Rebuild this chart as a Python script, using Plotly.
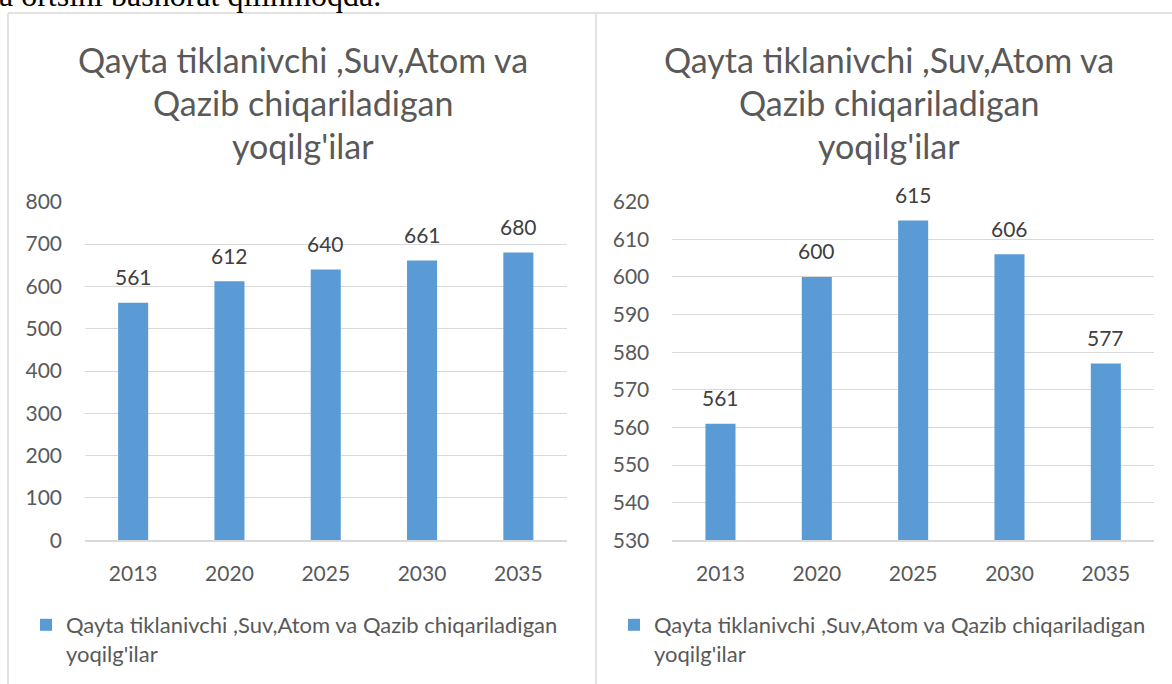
import plotly.graph_objects as go

W, H = 1172, 684

categories = ["2013", "2020", "2025", "2030", "2035"]
left_values = [561, 612, 640, 661, 680]
right_values = [561, 600, 615, 606, 577]
left_ticks = [0, 100, 200, 300, 400, 500, 600, 700, 800]
right_ticks = [530, 540, 550, 560, 570, 580, 590, 600, 610, 620]
series_name = "Qayta tiklanivchi ,Suv,Atom va Qazib chiqariladigan<br>yoqilg'ilar"
title_lines = ["Qayta tiklanivchi ,Suv,Atom va", "Qazib chiqariladigan", "yoqilg'ilar"]
intro_text = "a ortsini bashorat qilinmoqda."

BAR = "#5b9bd5"
GRID = "#d9d9d9"
TXT = "#595959"
LBL = "#404040"
FONT = "Lato"


def px(x):
    return x / W


def py(y):
    return 1 - y / H


fig = go.Figure()
fig.add_trace(go.Bar(x=categories, y=left_values, xaxis="x", yaxis="y",
                     marker=dict(color=BAR, line=dict(width=0)),
                     name=series_name, legend="legend", hoverinfo="skip"))
fig.add_trace(go.Bar(x=categories, y=right_values, xaxis="x2", yaxis="y2",
                     marker=dict(color=BAR, line=dict(width=0)),
                     name=series_name, legend="legend2", hoverinfo="skip"))

annotations = []
for xr, yr, vals in (("x", "y", left_values), ("x2", "y2", right_values)):
    for i, v in enumerate(vals):
        # category index i on a category axis
        annotations.append(dict(x=i, y=v, xref=xr, yref=yr, text=str(v),
                                showarrow=False, yanchor="middle", yshift=26,
                                font=dict(family=FONT, size=21, color=LBL)))

# chart titles
for cx in (302.5, 889):
    for i, line in enumerate(title_lines):
        annotations.append(dict(x=px(cx), y=py(59 + 43 * i), xref="paper", yref="paper",
                                text=line, showarrow=False, xanchor="center", yanchor="middle",
                                font=dict(family=FONT, size=34, color=TXT)))

# partial text of the page above the charts
annotations.append(dict(x=0, y=py(-5), xref="paper", yref="paper", text=intro_text,
                        showarrow=False, xanchor="left", yanchor="middle", xshift=-3,
                        font=dict(family="Liberation Serif", size=32, color="#000000")))

shapes = []
for (x0, y0, x1, y1) in ((8, 13, 596, 13), (8, 13, 8, 700), (596, 13, 596, 700), (596, 13, 1180, 13)):
    shapes.append(dict(type="line", xref="paper", yref="paper",
                       x0=px(x0), y0=py(y0), x1=px(x1), y1=py(y1),
                       line=dict(color=GRID, width=1.5)))

axis_font = dict(family=FONT, size=21, color=TXT)
ydom = [py(540.3), py(201.7)]
xrange = [-0.5, len(categories) - 0.5]

fig.update_layout(
    width=W, height=H,
    margin=dict(l=0, r=0, t=0, b=0, pad=0, autoexpand=False),
    paper_bgcolor="white", plot_bgcolor="white",
    bargap=0.688,
    annotations=annotations,
    shapes=shapes,
    xaxis=dict(type="category", domain=[px(85), px(566.5)], anchor="y", range=xrange,
               showgrid=False, showline=True, linecolor=GRID, linewidth=1.5, ticks="",
               tickfont=axis_font, ticklabelstandoff=14, fixedrange=True, automargin=False),
    yaxis=dict(domain=ydom, anchor="x", range=[0, 800], tickvals=left_ticks,
               showgrid=True, gridcolor=GRID, gridwidth=1.3, zeroline=False,
               showline=False, ticks="", tickfont=axis_font, ticklabelstandoff=22,
               fixedrange=True, automargin=False),
    xaxis2=dict(type="category", domain=[px(672.3), px(1154)], anchor="y2", range=xrange,
                showgrid=False, showline=True, linecolor=GRID, linewidth=1.5, ticks="",
                tickfont=axis_font, ticklabelstandoff=14, fixedrange=True, automargin=False),
    yaxis2=dict(domain=ydom, anchor="x2", range=[530, 620], tickvals=right_ticks,
                showgrid=True, gridcolor=GRID, gridwidth=1.3, zeroline=False,
                showline=False, ticks="", tickfont=axis_font, ticklabelstandoff=22,
                fixedrange=True, automargin=False),
    legend=dict(x=px(26), y=py(604), xanchor="left", yanchor="top", valign="top",
                bgcolor="rgba(0,0,0,0)", font=dict(family=FONT, size=22, color=TXT)),
    legend2=dict(x=px(614), y=py(604), xanchor="left", yanchor="top", valign="top",
                 bgcolor="rgba(0,0,0,0)", font=dict(family=FONT, size=22, color=TXT)),
    showlegend=True,
)

fig.write_html("out.html", config={"displayModeBar": False},
               post_script="document.body.style.margin='0';document.body.style.overflow='hidden';")
